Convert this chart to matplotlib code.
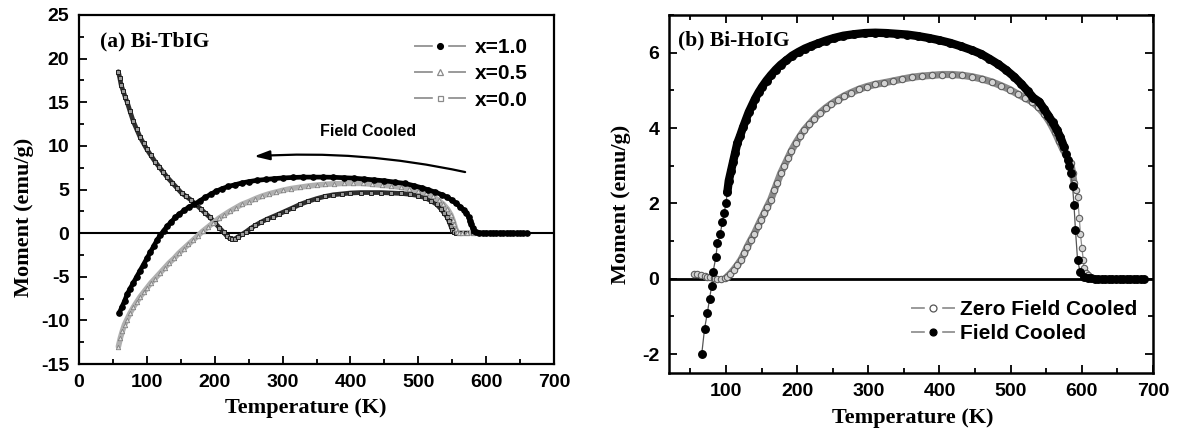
import matplotlib
matplotlib.use('Agg')
import matplotlib.pyplot as plt
from matplotlib.lines import Line2D
from matplotlib.legend_handler import HandlerTuple
from matplotlib.ticker import MultipleLocator

plt.rcParams['font.family'] = ['Liberation Sans', 'DejaVu Sans']
plt.rcParams['font.weight'] = 'bold'
plt.rcParams['axes.unicode_minus'] = False

# ---------------- Panel (a): Bi-TbIG, field cooled ----------------
T_x10 = [59, 63, 67, 71, 75, 80, 85, 90, 95, 100, 105, 110, 115, 120, 125, 130, 136, 142,
         148, 155, 162, 170, 178, 186, 194, 202, 211, 220, 230, 240, 250, 262, 275, 288, 300,
         315, 330, 345, 360, 375, 390, 405, 420, 435, 450, 465, 480, 493, 505, 515, 525, 535,
         543, 550, 556, 562, 567, 571, 574, 576, 578, 580, 582, 585, 590, 595, 600, 605, 610,
         615, 620, 625, 630, 635, 640, 645, 650, 655, 660]
M_x10 = [-9.2, -8.5, -7.8, -7.0, -6.4, -5.7, -5.0, -4.3, -3.6, -2.9, -2.2, -1.5, -0.8, -0.2,
         0.3, 0.8, 1.3, 1.8, 2.2, 2.6, 3.0, 3.3, 3.7, 4.1, 4.45, 4.8, 5.1, 5.35, 5.55, 5.75,
         5.9, 6.05, 6.15, 6.25, 6.32, 6.38, 6.42, 6.42, 6.42, 6.4, 6.35, 6.3, 6.2, 6.1, 6.0,
         5.85, 5.7, 5.45, 5.2, 4.95, 4.7, 4.4, 4.1, 3.75, 3.4, 3.0, 2.65, 2.3, 1.9, 1.4, 1.0,
         0.6, 0.3, 0.1, 0.03, 0.0, 0.0, 0.0, 0.0, 0.0, 0.0, 0.0, 0.0, 0.0, 0.0, 0.0, 0.0,
         0.0, 0.0]

T_x05 = [58, 61, 64, 67, 70, 75, 80, 85, 90, 95, 100, 106, 112, 119, 126, 133, 140, 147, 154,
         161, 168, 175, 182, 190, 198, 206, 214, 222, 231, 240, 250, 260, 270, 280, 290, 300,
         312, 325, 338, 350, 363, 376, 390, 404, 418, 432, 446, 460, 474, 487, 500, 511, 521,
         530, 537, 543, 548, 551, 553, 555, 557, 560, 565, 572, 580, 590, 600, 610, 620, 630,
         640]
M_x05 = [-13.0, -12.0, -11.2, -10.5, -10.0, -9.2, -8.5, -7.9, -7.3, -6.8, -6.3, -5.7, -5.2,
         -4.6, -4.0, -3.4, -2.9, -2.3, -1.8, -1.3, -0.8, -0.3, 0.2, 0.7, 1.2, 1.7, 2.1, 2.5,
         2.9, 3.3, 3.6, 3.95, 4.25, 4.5, 4.7, 4.9, 5.1, 5.25, 5.4, 5.5, 5.6, 5.65, 5.7, 5.7,
         5.7, 5.6, 5.5, 5.4, 5.25, 5.1, 4.85, 4.55, 4.2, 3.75, 3.3, 2.75, 2.1, 1.5, 1.0, 0.5,
         0.15, 0.03, 0.0, 0.0, 0.0, 0.0, 0.0, 0.0, 0.0, 0.0, 0.0]

T_x00 = [58, 60, 62, 65, 68, 71, 75, 80, 85, 90, 95, 100, 106, 112, 118, 124, 130, 137, 144,
         151, 158, 165, 172, 179, 186, 193, 200, 207, 213, 218, 222, 226, 230, 235, 240, 246,
         253, 260, 268, 277, 286, 295, 305, 315, 326, 338, 350, 362, 375, 388, 400, 415, 430,
         445, 460, 475, 488, 500, 510, 519, 527, 533, 538, 542, 545, 548, 550, 552, 555, 562,
         570, 580, 590, 600, 610, 620]
M_x00 = [18.5, 17.8, 17.0, 16.3, 15.6, 15.0, 14.0, 12.8, 11.9, 11.0, 10.3, 9.6, 8.9, 8.2,
         7.6, 7.0, 6.4, 5.8, 5.2, 4.6, 4.2, 3.8, 3.3, 2.8, 2.3, 1.8, 1.2, 0.6, 0.1, -0.35,
         -0.6, -0.7, -0.65, -0.4, -0.15, 0.15, 0.55, 0.9, 1.25, 1.6, 1.9, 2.2, 2.55, 2.9, 3.3,
         3.65, 3.95, 4.2, 4.4, 4.5, 4.6, 4.65, 4.65, 4.65, 4.6, 4.55, 4.45, 4.3, 4.05, 3.7,
         3.3, 2.8, 2.3, 1.9, 1.4, 0.8, 0.4, 0.1, 0.0, 0.0, 0.0, 0.0, 0.0, 0.0, 0.0, 0.0]

legend_a = ['x=1.0', 'x=0.5', 'x=0.0']

# ---------------- Panel (b): Bi-HoIG, ZFC / FC ----------------
T_fc = [66, 70, 74, 77, 80, 82, 86, 88, 92, 95, 97.5, 100, 102, 104, 107, 110, 113, 116, 120,
        124, 128, 132, 136, 141, 146, 151, 157, 163, 170, 177, 185, 193, 202, 211, 220, 230,
        240, 252, 265, 280, 295, 310, 325, 340, 355, 370, 385, 400, 415, 430, 445, 458, 470,
        482, 493, 505, 515, 524, 532, 540, 547, 553, 559, 565, 570, 575, 578, 580, 582, 584.5,
        587, 589, 591, 594, 597.5, 603, 608, 613, 618, 623, 628, 633, 638, 643, 648, 653, 658,
        663, 668, 673, 678, 683, 687]
M_fc = [-2.0, -1.32, -0.9, -0.53, -0.18, 0.19, 0.59, 0.94, 1.2, 1.5, 1.75, 2.0, 2.3, 2.6,
        2.85, 3.1, 3.35, 3.6, 3.8, 4.02, 4.22, 4.42, 4.58, 4.78, 4.95, 5.1, 5.26, 5.4, 5.55,
        5.68, 5.8, 5.92, 6.02, 6.11, 6.18, 6.25, 6.32, 6.39, 6.45, 6.49, 6.52, 6.53, 6.52,
        6.5, 6.48, 6.44, 6.39, 6.33, 6.26, 6.17, 6.07, 5.97, 5.84, 5.7, 5.55, 5.36, 5.17,
        4.98, 4.8, 4.7, 4.5, 4.33, 4.15, 3.95, 3.75, 3.5, 3.3, 3.15, 3.0, 2.8, 2.45, 1.95,
        1.3, 0.5, 0.19, 0.04, 0.02, 0.01, 0.0, 0.0, 0.0, 0.0, 0.0, 0.0, 0.0, 0.0, 0.0, 0.0,
        0.0, 0.0, 0.0, 0.0, 0.0]

T_zfc = [55, 60, 65, 70, 74, 78, 83, 88, 93, 98, 102, 106, 111, 116, 121, 126, 130, 135, 140,
         145, 149, 154, 158, 163, 168, 172, 177, 182, 187, 192, 198, 204, 210, 217, 224, 232,
         240, 248, 257, 266, 276, 287, 298, 310, 322, 335, 348, 362, 376, 390, 404, 418, 432,
         446, 460, 474, 487, 499, 510, 520, 530, 539, 547, 555, 562, 568, 573, 578, 581,
         584.5, 587, 589, 592, 594, 596.5, 598, 600, 602, 603, 606, 608, 612, 616, 621, 626,
         631, 636, 641, 646, 651, 656, 661, 666, 671, 676, 681, 686]
M_zfc = [0.13, 0.12, 0.1, 0.08, 0.06, 0.04, 0.02, 0.0, -0.01, 0.02, 0.06, 0.13, 0.24, 0.36,
         0.5, 0.68, 0.85, 1.03, 1.2, 1.4, 1.56, 1.75, 1.91, 2.1, 2.35, 2.55, 2.8, 3.0, 3.2,
         3.4, 3.6, 3.78, 3.95, 4.1, 4.25, 4.4, 4.53, 4.64, 4.75, 4.85, 4.94, 5.03, 5.1, 5.16,
         5.2, 5.25, 5.3, 5.35, 5.38, 5.4, 5.42, 5.42, 5.4, 5.36, 5.3, 5.22, 5.12, 5.02, 4.9,
         4.8, 4.7, 4.55, 4.38, 4.15, 3.9, 3.65, 3.45, 3.28, 3.15, 3.06, 2.8, 2.53, 2.35, 2.18,
         1.6, 1.2, 0.83, 0.5, 0.28, 0.15, 0.1, 0.05, 0.02, 0.0, 0.0, 0.0, 0.0, 0.0, 0.0, 0.0,
         0.0, 0.0, 0.0, 0.0, 0.0, 0.0, 0.0]

legend_b = ['Zero Field Cooled', 'Field Cooled']

# ---------------- Figure ----------------
fig = plt.figure(figsize=(11.78, 4.36), dpi=100)
axA = fig.add_axes([0.0671, 0.1651, 0.4032, 0.8005])
axB = fig.add_axes([0.5679, 0.1445, 0.4109, 0.8211])

serif = dict(family='Liberation Serif', weight='bold')

def style_axes(ax, lw=1.6):
    for s in ax.spines.values():
        s.set_linewidth(lw)
    ax.tick_params(which='both', direction='in', width=1.3, labelsize=14, pad=7)
    ax.tick_params(which='major', length=6)
    ax.tick_params(which='minor', length=3.5)
    for lbl in ax.get_xticklabels() + ax.get_yticklabels():
        lbl.set_fontweight('bold')

# ---- panel (a)
axA.axhline(0, color='k', lw=1.5, zorder=1)
axA.plot(T_x00, M_x00, color='#2e2e2e', lw=3.4, zorder=2, solid_capstyle='round')
axA.plot(T_x00, M_x00, ls='none', marker='s', ms=3.0, mfc='#9a9a9a', mec='#1e1e1e', mew=0.7, zorder=3)
axA.plot(T_x05, M_x05, color='#b0b0b0', lw=4.0, zorder=2, solid_capstyle='round')
axA.plot(T_x05, M_x05, ls='none', marker='^', ms=3.2, mfc='#dddddd', mec='#808080', mew=0.6, zorder=3)
axA.plot(T_x10, M_x10, color='k', lw=3.4, zorder=4, solid_capstyle='round')
axA.plot(T_x10, M_x10, ls='none', marker='o', ms=3.8, color='k', zorder=5)

axA.set_xlim(0, 700)
axA.set_ylim(-15, 25)
axA.xaxis.set_major_locator(MultipleLocator(100))
axA.xaxis.set_minor_locator(MultipleLocator(50))
axA.yaxis.set_major_locator(MultipleLocator(5))
axA.yaxis.set_minor_locator(MultipleLocator(2.5))
style_axes(axA)

axA.text(0.045, 0.925, '(a) Bi-TbIG', transform=axA.transAxes, fontsize=15.5, ha='left',
         va='center', **serif)
axA.text(426, 11.7, 'Field Cooled', fontsize=11.5, ha='center', va='center', weight='bold')
axA.annotate('', xy=(258, 8.8), xytext=(569, 7.0),
             arrowprops=dict(arrowstyle='-|>,head_length=0.65,head_width=0.2', color='k', lw=1.6,
                             connectionstyle='arc3,rad=0.07', mutation_scale=14,
                             shrinkA=0, shrinkB=0))

def gap_handle(marker, mfc, mec, ms):
    return (Line2D([], [], color='#9a9a9a', lw=1.4),
            Line2D([], [], ls='none', marker='s', ms=ms + 6, mfc='w', mec='w'),
            Line2D([], [], ls='none', marker=marker, ms=ms, mfc=mfc, mec=mec, mew=0.9))

hA = [gap_handle('o', 'k', 'k', 4.2), gap_handle('^', 'w', '#8a8a8a', 4.2),
      gap_handle('s', 'w', '#8a8a8a', 3.6)]
axA.legend(hA, legend_a, handler_map={tuple: HandlerTuple(ndivide=1)}, loc='upper right',
           bbox_to_anchor=(0.962, 0.958), frameon=False, fontsize=15, handlelength=2.4,
           handletextpad=0.45, labelspacing=0.35, borderaxespad=0)

axA.text(-0.115, 0.42, 'Moment (emu/g)', transform=axA.transAxes, rotation=90, fontsize=16,
         ha='center', va='center', **serif)
axA.text(0.478, -0.125, 'Temperature (K)', transform=axA.transAxes, fontsize=16,
         ha='center', va='center', **serif)

# ---- panel (b)
axB.axhline(0, color='k', lw=2.0, zorder=1)
axB.plot(T_zfc, M_zfc, color='#8e8e8e', lw=0.9, zorder=2)
axB.plot(T_zfc[10:72], M_zfc[10:72], color='#8a8a8a', lw=5.2, zorder=2, solid_capstyle='round')
axB.plot(T_zfc, M_zfc, ls='none', marker='o', ms=4.6, mfc='#d4d4d4', mec='#5e5e5e', mew=0.8,
         zorder=3)
axB.plot(T_fc, M_fc, color='#555555', lw=0.9, zorder=4)
axB.plot(T_fc[12:66], M_fc[12:66], color='k', lw=6.0, zorder=4, solid_capstyle='round')
axB.plot(T_fc, M_fc, ls='none', marker='o', ms=5.4, color='k', zorder=5)

axB.set_xlim(20, 700)
axB.set_ylim(-2.5, 7)
axB.xaxis.set_major_locator(MultipleLocator(100))
axB.xaxis.set_minor_locator(MultipleLocator(50))
axB.yaxis.set_major_locator(MultipleLocator(2))
axB.yaxis.set_minor_locator(MultipleLocator(1))
style_axes(axB, lw=1.8)
axB.tick_params(axis='x', which='both', top=True, labeltop=False)
axB.tick_params(axis='y', which='both', right=True, labelright=False)

axB.text(0.018, 0.93, '(b) Bi-HoIG', transform=axB.transAxes, fontsize=15.5, ha='left',
         va='center', **serif)

hB = [gap_handle('o', 'w', '#555555', 5.0), gap_handle('o', 'k', 'k', 5.0)]
axB.legend(hB, legend_b, handler_map={tuple: HandlerTuple(ndivide=1)}, loc='lower right',
           bbox_to_anchor=(0.985, 0.06), frameon=False, fontsize=15, handlelength=2.0,
           handletextpad=0.3, labelspacing=0.25, borderaxespad=0)

axB.text(-0.10, 0.47, 'Moment (emu/g)', transform=axB.transAxes, rotation=90, fontsize=16,
         ha='center', va='center', **serif)
axB.text(0.504, -0.125, 'Temperature (K)', transform=axB.transAxes, fontsize=16,
         ha='center', va='center', **serif)

fig.savefig('out.png', dpi=100)
